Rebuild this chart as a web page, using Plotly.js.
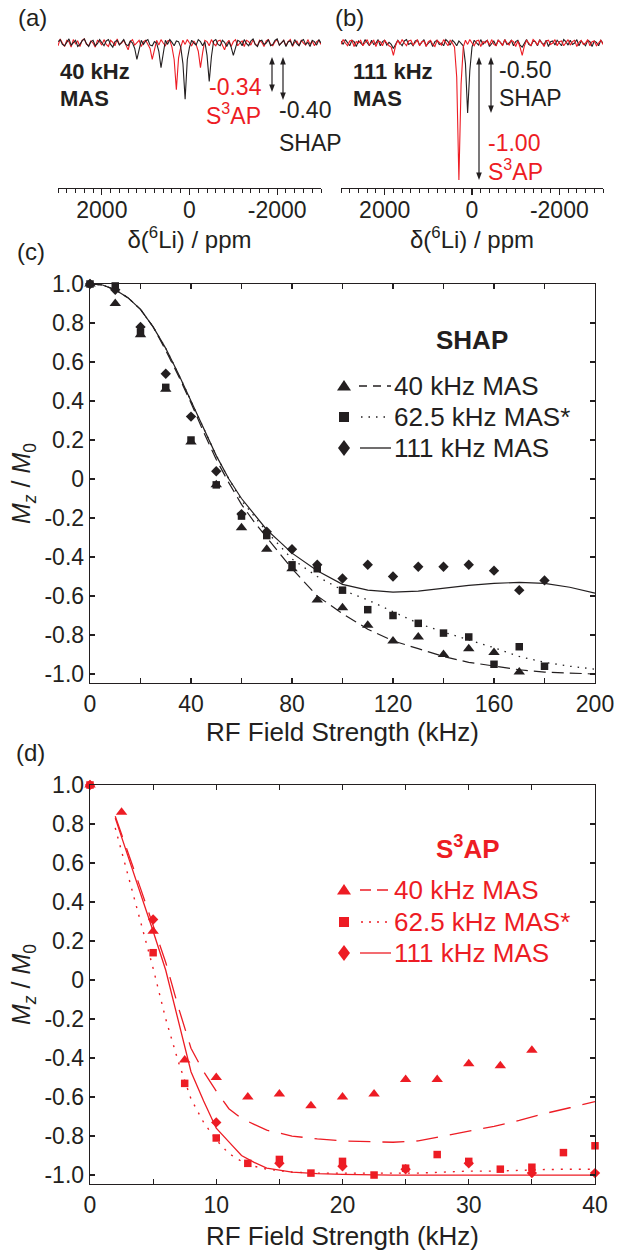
<!DOCTYPE html>
<html><head><meta charset="utf-8">
<script src="https://cdn.plot.ly/plotly-3.0.1.min.js"></script>
<style>html,body{margin:0;padding:0;background:#fff}#chart{width:638px;height:1253px}</style>
</head><body><div id="chart"></div>
<script>
// ---------------- DATA ----------------
// (a),(b) 6Li spectra: chemical shift grid (ppm) and intensities
const specPpm = [3000,2950,2900,2850,2800,2750,2700,2650,2600,2550,
2500,2450,2400,2350,2300,2250,2200,2150,2100,2050,
2000,1950,1900,1850,1800,1750,1700,1650,1600,1550,
1500,1450,1400,1350,1300,1250,1200,1150,1100,1050,
1000,950,900,850,800,750,700,650,600,550,
500,450,400,350,300,250,200,150,100,50,
0,-50,-100,-150,-200,-250,-300,-350,-400,-450,
-500,-550,-600,-650,-700,-750,-800,-850,-900,-950,
-1000,-1050,-1100,-1150,-1200,-1250,-1300,-1350,-1400,-1450,
-1500,-1550,-1600,-1650,-1700,-1750,-1800,-1850,-1900,-1950,
-2000,-2050,-2100,-2150,-2200,-2250,-2300,-2350,-2400,-2450,
-2500,-2550,-2600,-2650,-2700,-2750,-2800,-2850,-2900,-2950,-3000];
const specA_black = [0.01,0.025,-0.01,-0.02,0.005,0.03,-0.015,0.0,0.02,-0.025,
-0.01,0.015,0.03,-0.005,-0.025,0.01,0.02,-0.02,-0.005,0.025,
0.0,-0.02,0.015,0.025,-0.01,-0.03,0.01,0.02,-0.015,0.005,
0.025,-0.01,-0.02,0.015,0.0,-0.04,-0.12,-0.05,0.02,-0.01,
0.015,0.025,-0.015,-0.02,0.01,0.0,-0.06,-0.18,-0.07,0.02,
-0.01,0.025,0.005,-0.02,0.015,0.01,-0.03,-0.15,-0.41,-0.12,
-0.03,0.02,0.0,-0.015,0.025,0.01,-0.02,0.01,-0.09,-0.28,
-0.10,0.015,0.025,-0.01,-0.02,0.02,0.005,-0.025,0.01,-0.03,
-0.09,-0.03,0.02,0.01,-0.02,0.025,-0.005,-0.02,0.015,0.03,
-0.01,-0.025,0.015,0.02,-0.01,0.0,0.025,-0.02,-0.01,0.02,
0.03,-0.015,0.0,0.02,-0.025,0.01,0.015,-0.02,0.025,-0.005,
-0.02,0.015,0.025,-0.01,0.005,-0.025,0.02,0.01,-0.015,0.025,0.0];
const specA_red = [-0.02,0.03,0.0,-0.025,0.02,0.01,-0.03,0.025,-0.005,0.015,
-0.025,0.02,0.03,-0.01,-0.02,0.015,0.0,-0.03,0.02,0.01,
-0.015,0.025,-0.01,-0.025,0.02,0.005,-0.02,0.03,-0.01,0.0,
0.02,-0.02,-0.05,0.01,0.025,-0.015,0.0,0.02,-0.025,0.01,
0.02,-0.01,-0.04,-0.12,-0.05,0.02,-0.015,0.025,0.0,-0.02,
0.015,0.02,-0.03,-0.12,-0.34,-0.11,-0.03,0.02,-0.01,0.025,
0.0,-0.02,0.015,-0.01,-0.06,-0.18,-0.07,0.02,0.01,-0.02,
0.025,-0.005,-0.02,0.015,0.02,-0.015,-0.05,0.0,0.02,-0.025,
0.01,0.025,-0.02,0.0,0.015,-0.025,0.02,0.01,-0.015,0.025,
-0.01,-0.02,0.02,0.005,-0.025,0.015,0.025,-0.01,-0.02,0.01,
0.025,-0.015,0.0,0.02,-0.02,0.01,0.025,-0.025,0.005,0.015,
-0.02,0.02,0.0,-0.015,0.025,-0.01,0.015,-0.02,0.01,0.02,-0.01];
const specB_black = [0.015,-0.01,0.025,0.0,-0.02,0.02,0.01,-0.025,0.015,0.0,
-0.015,0.025,0.005,-0.02,0.02,-0.01,0.0,0.025,-0.02,0.01,
0.02,-0.015,0.005,-0.01,-0.04,-0.01,0.02,0.0,-0.02,0.015,
0.025,-0.01,0.0,-0.02,0.015,0.02,-0.015,0.005,0.025,-0.02,
0.0,0.015,-0.025,0.01,0.02,-0.01,0.0,-0.02,0.025,0.01,
-0.015,0.02,0.005,-0.02,0.015,0.0,-0.02,-0.15,-0.51,-0.2,
-0.03,0.02,0.0,-0.015,0.025,-0.01,0.01,0.02,-0.025,0.0,
0.015,-0.02,0.02,0.005,-0.015,0.025,-0.01,0.0,0.02,-0.02,
0.01,0.02,-0.015,-0.03,0.0,0.025,-0.01,-0.02,0.015,0.01,
-0.02,0.025,0.0,-0.01,0.02,-0.025,0.01,0.015,-0.015,0.02,
0.0,-0.02,0.025,0.01,-0.015,0.02,-0.01,0.0,0.025,-0.02,
0.015,0.0,-0.02,0.02,0.01,-0.025,0.015,0.005,-0.02,0.02,0.0];
const specB_red = [-0.01,0.025,0.0,-0.02,0.015,0.02,-0.025,0.01,0.0,0.02,
-0.02,0.005,0.025,-0.015,0.0,0.02,-0.025,0.015,0.01,-0.02,
0.02,0.0,-0.02,-0.03,-0.09,-0.02,0.02,-0.01,0.025,0.0,
-0.02,0.015,0.02,-0.015,0.0,0.025,-0.02,0.01,0.015,-0.025,
0.01,0.02,-0.01,-0.025,0.02,0.005,-0.015,0.025,0.0,-0.02,
0.02,0.0,-0.03,-0.25,-1.0,-0.3,-0.03,0.02,-0.01,0.025,
0.0,-0.02,0.015,0.02,-0.025,0.01,0.0,0.02,-0.015,0.025,
-0.01,-0.02,0.02,0.005,-0.02,0.025,0.0,-0.015,0.02,0.01,
-0.025,0.015,-0.03,-0.09,-0.02,0.02,0.0,-0.02,0.025,0.01,
-0.015,0.02,0.0,-0.025,0.015,0.02,-0.01,0.0,0.025,-0.02,
0.01,0.015,-0.02,0.0,0.025,-0.015,0.01,0.02,-0.025,0.005,
0.02,-0.01,0.0,0.025,-0.02,0.01,0.015,-0.02,0.0,0.02,-0.01];
const specTickVals = [2000,0,-2000];
const specTickText = ['2000','0','-2000'];

// (c) SHAP: measured points
const shapField = [0,10,20,30,40,50,60,70,80,90,100,110,120,130,140,150,160,170,180];
const shap40 = [1.0,0.90,0.74,0.46,0.19,-0.03,-0.25,-0.36,-0.46,-0.62,-0.66,-0.75,-0.83,-0.81,-0.90,-0.87,-0.89,-0.99];
const shap625 = [1.0,0.99,0.75,0.47,0.20,-0.03,-0.19,-0.29,-0.44,-0.46,-0.57,-0.67,-0.70,-0.74,-0.79,-0.81,-0.95,-0.86,-0.96];
const shap111 = [1.0,0.97,0.78,0.54,0.32,0.04,-0.18,-0.27,-0.36,-0.44,-0.51,-0.44,-0.50,-0.45,-0.45,-0.44,-0.47,-0.57,-0.52];
// (c) SHAP: simulations
const shapSimField = [0,5,10,15,20,25,30,35,40,45,50,55,60,65,70,75,80,90,100,110,120,130,140,150,160,170,180,190,200];
const shapSim40 = [1.0,0.995,0.97,0.93,0.87,0.78,0.66,0.53,0.39,0.24,0.10,-0.02,-0.13,-0.22,-0.30,-0.38,-0.46,-0.60,-0.69,-0.77,-0.83,-0.87,-0.91,-0.94,-0.96,-0.978,-0.99,-0.996,-1.0];
const shapSim625 = [1.0,0.995,0.97,0.93,0.87,0.78,0.67,0.54,0.40,0.26,0.12,0.0,-0.11,-0.19,-0.27,-0.34,-0.41,-0.50,-0.57,-0.62,-0.68,-0.74,-0.785,-0.825,-0.865,-0.91,-0.94,-0.96,-0.975];
const shapSim111 = [1.0,0.995,0.97,0.93,0.87,0.78,0.67,0.54,0.40,0.26,0.12,0.0,-0.10,-0.18,-0.26,-0.32,-0.38,-0.47,-0.54,-0.57,-0.58,-0.575,-0.56,-0.545,-0.535,-0.53,-0.535,-0.555,-0.585];

// (d) S3AP: measured points
const s3Field40 = [0,2.5,5,7.5,10,12.5,15,17.5,20,22.5,25,27.5,30,32.5,35];
const s3ap40 = [1.0,0.86,0.25,-0.41,-0.50,-0.60,-0.585,-0.645,-0.60,-0.585,-0.51,-0.51,-0.43,-0.44,-0.36];
const s3Field625 = [0,5,7.5,10,12.5,15,17.5,20,22.5,25,27.5,30,32.5,35,37.5,40];
const s3ap625 = [1.0,0.14,-0.53,-0.81,-0.94,-0.92,-0.99,-0.93,-1.0,-0.965,-0.895,-0.93,-0.97,-0.96,-0.885,-0.85];
const s3Field111 = [0,5,10,15,20,25,30,35,40];
const s3ap111 = [1.0,0.31,-0.73,-0.94,-0.955,-0.97,-0.94,-0.99,-0.99];
// (d) S3AP: simulations
const s3SimField = [2,3,4,5,6,7,8,9,10,11,12,13,14,16,18,20,22,24,26,28,30,32,34,36,38,40];
const s3Sim40 = [0.84,0.66,0.47,0.28,0.09,-0.14,-0.35,-0.47,-0.57,-0.66,-0.71,-0.74,-0.77,-0.80,-0.815,-0.825,-0.83,-0.832,-0.825,-0.80,-0.775,-0.75,-0.72,-0.685,-0.655,-0.624];
const s3Sim625 = [0.78,0.54,0.30,0.06,-0.20,-0.42,-0.61,-0.73,-0.82,-0.89,-0.93,-0.955,-0.97,-0.985,-0.99,-0.99,-0.99,-0.99,-0.99,-0.985,-0.98,-0.98,-0.975,-0.972,-0.97,-0.97];
const s3Sim111 = [0.83,0.64,0.44,0.25,0.05,-0.21,-0.47,-0.62,-0.76,-0.83,-0.90,-0.935,-0.965,-0.985,-0.993,-0.997,-1.0,-1.0,-1.0,-1.0,-1.0,-1.0,-1.0,-1.0,-1.0,-1.0];

const yTickVals = [-1,-0.8,-0.6,-0.4,-0.2,0,0.2,0.4,0.6,0.8,1];
const yTickText = ['-1.0','-0.8','-0.6','-0.4','-0.2','0','0.2','0.4','0.6','0.8','1.0'];

// ---------------- STYLE / LAYOUT ----------------
const W = 638, H = 1253;
const px = v => v / W;
const py = v => 1 - v / H;
const K = '#231f20', R = '#ed1c24';
const FONT = 'Liberation Sans, Arial, Helvetica, sans-serif';

const traces = [
  {x: specPpm, y: specA_red, xaxis:'x', yaxis:'y', mode:'lines', line:{color:R, width:1.1}},
  {x: specPpm, y: specA_black, xaxis:'x', yaxis:'y', mode:'lines', line:{color:K, width:1.1}},
  {x: specPpm, y: specB_black, xaxis:'x2', yaxis:'y2', mode:'lines', line:{color:K, width:1.1}},
  {x: specPpm, y: specB_red, xaxis:'x2', yaxis:'y2', mode:'lines', line:{color:R, width:1.1}},

  {x: shapSimField, y: shapSim40, xaxis:'x3', yaxis:'y3', mode:'lines', line:{color:K, width:1.2, dash:'12px,6px'}},
  {x: shapSimField, y: shapSim625, xaxis:'x3', yaxis:'y3', mode:'lines', line:{color:K, width:1.3, dash:'1.5px,6px'}},
  {x: shapSimField, y: shapSim111, xaxis:'x3', yaxis:'y3', mode:'lines', line:{color:K, width:1.2}},
  {x: shapField.slice(0, shap40.length), y: shap40, xaxis:'x3', yaxis:'y3', mode:'markers', cliponaxis:false, marker:{symbol:'triangle-up', size:10, color:K}},
  {x: shapField, y: shap625, xaxis:'x3', yaxis:'y3', mode:'markers', cliponaxis:false, marker:{symbol:'square', size:7.5, color:K}},
  {x: shapField, y: shap111, xaxis:'x3', yaxis:'y3', mode:'markers', cliponaxis:false, marker:{symbol:'diamond', size:8, color:K}},

  {x: s3SimField, y: s3Sim40, xaxis:'x4', yaxis:'y4', mode:'lines', line:{color:R, width:1.3, dash:'22px,12px'}},
  {x: s3SimField, y: s3Sim625, xaxis:'x4', yaxis:'y4', mode:'lines', line:{color:R, width:1.4, dash:'2px,7px'}},
  {x: s3SimField, y: s3Sim111, xaxis:'x4', yaxis:'y4', mode:'lines', line:{color:R, width:1.3}},
  {x: s3Field40, y: s3ap40, xaxis:'x4', yaxis:'y4', mode:'markers', cliponaxis:false, marker:{symbol:'triangle-up', size:10, color:R}},
  {x: s3Field625, y: s3ap625, xaxis:'x4', yaxis:'y4', mode:'markers', cliponaxis:false, marker:{symbol:'square', size:7.5, color:R}},
  {x: s3Field111, y: s3ap111, xaxis:'x4', yaxis:'y4', mode:'markers', cliponaxis:false, marker:{symbol:'diamond', size:8, color:R}}
];

function specX(domain, anchor) {
  return {domain: domain, anchor: anchor, range:[3000,-3000], showline:true, linecolor:K, linewidth:1.3,
    ticks:'outside', ticklen:6, tickwidth:1.2, tickcolor:K, tickmode:'array', tickvals:specTickVals, ticktext:specTickText,
    ticklabelstandoff:-5,
    tickfont:{size:23, color:K}, showgrid:false, zeroline:false,
    minor:{ticks:'outside', ticklen:3.5, tickwidth:1, tickcolor:K, tickmode:'linear', tick0:0, dtick:200, showgrid:false},
    title:{text:'δ(<sup>6</sup>Li) / ppm', font:{size:24, color:K}, standoff:4}};
}
function specY(anchor) {
  return {domain:[py(188), py(20)], anchor: anchor, range:[-1.058, 0.168], visible:false, showgrid:false, zeroline:false};
}
function mainX(domain, anchor, range, major, minor, standoff) {
  return {domain: domain, anchor: anchor, range: range, showline:true, mirror:'ticks', linecolor:K, linewidth:1.3,
    ticks:'inside', ticklen:5, tickwidth:1.2, tickcolor:K, tickmode:'linear', tick0:0, dtick: major,
    minor:{ticks:'inside', ticklen:5, tickwidth:1.2, tickcolor:K, tickmode:'linear', tick0:0, dtick: minor, showgrid:false},
    tickfont:{size:23, color:K}, showgrid:false, zeroline:false,
    title:{text:'RF Field Strength (kHz)', font:{size:26, color:K}, standoff: standoff}};
}
function mainY(domain, anchor) {
  return {domain: domain, anchor: anchor, range:[-1.046, 1.0], showline:true, mirror:'ticks', linecolor:K, linewidth:1.3,
    ticks:'inside', ticklen:5, tickwidth:1.2, tickcolor:K, tickmode:'array', tickvals: yTickVals, ticktext: yTickText,
    tickfont:{size:23, color:K}, showgrid:false, zeroline:false,
    title:{text:'<i>M</i><sub><i>z</i></sub> / <i>M</i><sub>0</sub>', font:{size:25, color:K}, standoff:6}};
}

const ann = [];
function txt(text, x, y, opts) {
  ann.push(Object.assign({text: text, x: px(x), y: py(y), xref:'paper', yref:'paper', showarrow:false,
    xanchor:'left', yanchor:'middle', font:{size:23, color:K}}, opts || {}));
}
const shapes = [];
function glyph(path, x, y, color) {
  shapes.push({type:'path', xref:'paper', yref:'paper', xsizemode:'pixel', ysizemode:'pixel',
    xanchor: px(x), yanchor: py(y), path: path, fillcolor: color, line:{width:0, color: color}});
}
function sample(x0, x1, y, color, dash) {
  shapes.push({type:'line', xref:'paper', yref:'paper', x0: px(x0), x1: px(x1), y0: py(y), y1: py(y),
    line:{color: color, width:1.3, dash: dash}});
}
function dblArrow(x, yTop, yBot) {
  shapes.push({type:'line', xref:'paper', yref:'paper', x0: px(x), x1: px(x), y0: py(yTop + 4), y1: py(yBot - 4),
    line:{color: K, width:1.2}});
  glyph('M0,0L-2.8,-7.5L2.8,-7.5Z', x, yTop, K);
  glyph('M0,0L-2.8,7.5L2.8,7.5Z', x, yBot, K);
}
// panel labels
txt('(a)', 16, 17, {font:{size:24, color:K}});
txt('(b)', 333, 17, {font:{size:24, color:K}});
txt('(c)', 15, 251, {font:{size:24, color:K}});
txt('(d)', 14, 752, {font:{size:24, color:K}});
// (a) annotations
txt('<b>40 kHz</b>', 58, 72, {font:{size:22, color:K}});
txt('<b>MAS</b>', 58, 98, {font:{size:22, color:K}});
txt('-0.34', 235, 87, {xanchor:'center', font:{size:23, color:R}});
txt('S<sup>3</sup>AP', 233, 114, {xanchor:'center', font:{size:23, color:R}});
txt('-0.40', 277, 110);
txt('SHAP', 277, 143);
dblArrow(272, 57, 92);
dblArrow(283, 57, 100);
// (b) annotations
txt('<b>111 kHz</b>', 351, 72, {font:{size:22, color:K}});
txt('<b>MAS</b>', 351, 98, {font:{size:22, color:K}});
txt('-0.50', 497, 70);
txt('SHAP', 497, 98);
txt('-1.00', 486, 143, {font:{size:23, color:R}});
txt('S<sup>3</sup>AP', 486, 170, {font:{size:23, color:R}});
dblArrow(491, 57, 113);
dblArrow(479, 57, 180);
// (c) legend
txt('<b>SHAP</b>', 472, 340, {xanchor:'center', font:{size:26, color:K}});
txt('40 kHz MAS', 392, 386, {font:{size:26, color:K}});
txt('62.5 kHz MAS*', 392, 417, {font:{size:26, color:K}});
txt('111 kHz MAS', 392, 448, {font:{size:26, color:K}});
// (d) legend
txt('<b>S<sup>3</sup>AP</b>', 468, 847, {xanchor:'center', font:{size:26, color:R}});
txt('40 kHz MAS', 392, 890, {font:{size:26, color:R}});
txt('62.5 kHz MAS*', 392, 922, {font:{size:26, color:R}});
txt('111 kHz MAS', 392, 953, {font:{size:26, color:R}});

const TRI = 'M-7,-4.5L7,-4.5L0,6Z', SQ = 'M-5,-5L5,-5L5,5L-5,5Z', DIA = 'M0,8L6,0L0,-8L-6,0Z';
glyph(TRI, 344, 386, K); glyph(SQ, 344, 417, K); glyph(DIA, 344, 448, K);
sample(359, 391, 386, K, '8px,6px'); sample(361, 390, 417, K, '1.5px,6px'); sample(360, 391, 448, K, 'solid');
glyph(TRI, 344, 890, R); glyph(SQ, 344, 922, R); glyph(DIA, 344, 953, R);
sample(360, 391, 890, R, '11px,6px'); sample(361, 390, 922, R, '2px,6px'); sample(360, 391, 953, R, 'solid');

const layout = {
  width: W, height: H, margin:{l:0, r:0, t:0, b:0}, paper_bgcolor:'#ffffff', plot_bgcolor:'rgba(0,0,0,0)',
  showlegend:false, font:{family: FONT, color: K},
  xaxis: specX([px(58), px(321)], 'y'),
  yaxis: specY('x'),
  xaxis2: specX([px(341), px(603)], 'y2'),
  yaxis2: specY('x2'),
  xaxis3: mainX([px(90), px(595)], 'y3', [0, 200], 40, 20, 2),
  yaxis3: mainY([py(683), py(284)], 'x3'),
  xaxis4: mainX([px(90), px(595)], 'y4', [0, 40], 10, 5, 10),
  yaxis4: mainY([py(1184), py(785)], 'x4'),
  annotations: ann, shapes: shapes
};
Plotly.newPlot('chart', traces, layout, {staticPlot:true, displayModeBar:false});
</script></body></html>
